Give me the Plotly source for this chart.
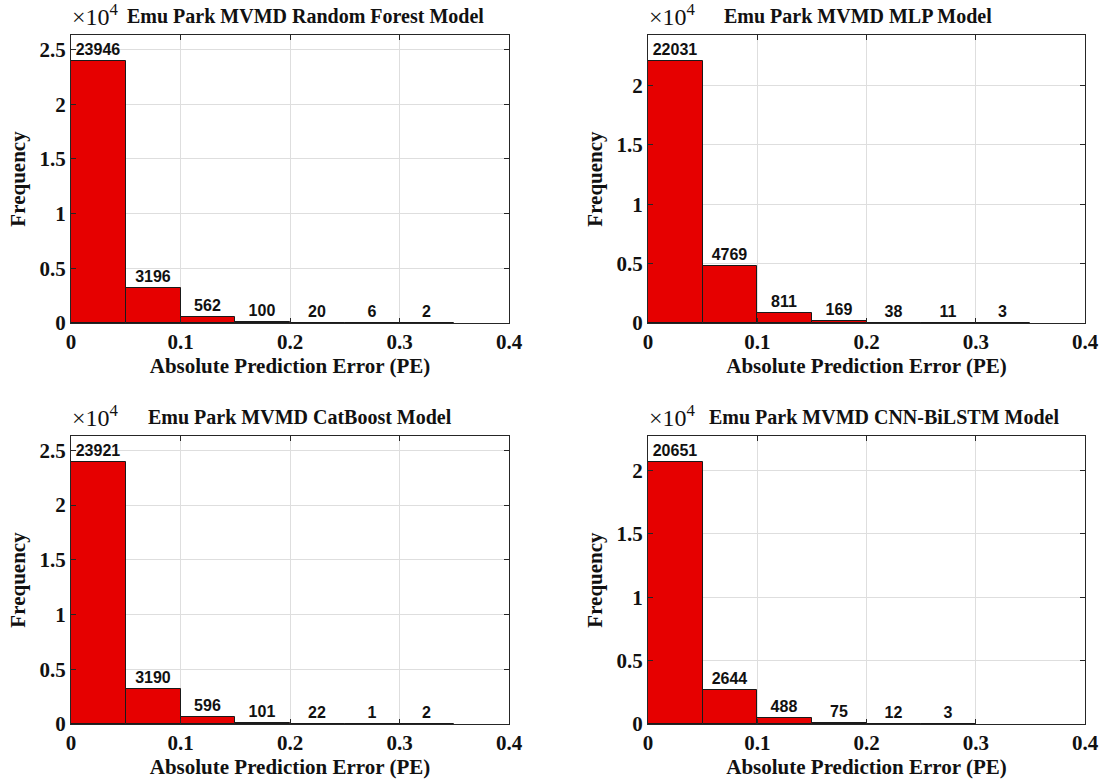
import plotly.graph_objects as go

W, H = 1099, 782

bin_edges = [0, 0.05, 0.1, 0.15, 0.2, 0.25, 0.3, 0.35, 0.4]
titles = [
    "Emu Park MVMD Random Forest Model",
    "Emu Park MVMD MLP Model",
    "Emu Park MVMD CatBoost Model",
    "Emu Park MVMD CNN-BiLSTM Model",
]
counts_rf = [23946, 3196, 562, 100, 20, 6, 2]
counts_mlp = [22031, 4769, 811, 169, 38, 11, 3]
counts_cat = [23921, 3190, 596, 101, 22, 1, 2]
counts_cnn = [20651, 2644, 488, 75, 12, 3]
all_counts = [counts_rf, counts_mlp, counts_cat, counts_cnn]

ytick_vals = [0, 5000, 10000, 15000, 20000, 25000]
ytick_text = ["0", "0.5", "1", "1.5", "2", "2.5"]
xtick_vals = [0, 0.1, 0.2, 0.3, 0.4]
xtick_text = ["0", "0.1", "0.2", "0.3", "0.4"]

# panel boxes in pixels: (left, right, top, bottom)
boxes = [
    (71, 509, 35, 323),
    (648, 1085, 35, 323),
    (71, 509, 436, 724),
    (648, 1085, 436, 724),
]
title_cx = [305, 858, 300, 884]

def px(x):
    return x / W

def py(y):
    return 1 - y / H

SERIF = "Liberation Serif"
SANS = "Liberation Sans"
RED = "#E60000"

fig = go.Figure()
for i, counts in enumerate(all_counts):
    n = len(counts)
    centers = [(bin_edges[k] + bin_edges[k + 1]) / 2 for k in range(n)]
    sfx = "" if i == 0 else str(i + 1)
    fig.add_trace(go.Bar(
        x=centers, y=counts, width=0.05,
        marker=dict(color=RED, line=dict(color="#1a1a1a", width=1)),
        text=[str(c) for c in counts], textposition="outside",
        textfont=dict(family=SANS, size=16, color="#111111", weight="bold"),
        cliponaxis=False,
        xaxis="x" + sfx, yaxis="y" + sfx, showlegend=False,
    ))
    l, r, t, b = boxes[i]
    ymax = max(counts) * 1.1
    axcommon = dict(showline=True, linecolor="#262626", linewidth=1, mirror="ticks",
                    ticks="inside", ticklen=5, tickcolor="#262626", automargin=False,
                    showgrid=True, gridcolor="#dedede", gridwidth=1, zeroline=False,
                    tickfont=dict(family=SERIF, size=21, color="#111111", weight="bold"))
    fig.layout["xaxis" + sfx] = dict(
        domain=[px(l), px(r)], anchor="y" + sfx, range=[0, 0.4],
        tickvals=xtick_vals, ticktext=xtick_text,
        title=dict(text="Absolute Prediction Error (PE)", standoff=5,
                   font=dict(family=SERIF, size=21, color="#111111", weight="bold")),
        **axcommon)
    fig.layout["yaxis" + sfx] = dict(
        domain=[py(b), py(t)], anchor="x" + sfx, range=[0, ymax],
        tickvals=ytick_vals, ticktext=ytick_text,
        title=dict(text="Frequency", standoff=8,
                   font=dict(family=SERIF, size=21, color="#111111", weight="bold")),
        **axcommon)
    fig.add_annotation(x=px(title_cx[i]), y=py(t - 6), xref="paper", yref="paper",
                       text=titles[i], showarrow=False, xanchor="center", yanchor="bottom",
                       font=dict(family=SERIF, size=20, color="#111111", weight="bold"))
    fig.add_annotation(x=px(l - 1), y=py(t - 3), xref="paper", yref="paper",
                       text="×10<sup>4</sup>", showarrow=False, xanchor="left", yanchor="bottom",
                       font=dict(family=SERIF, size=24, color="#111111", weight="normal"))

fig.update_layout(
    width=W, height=H, margin=dict(l=0, r=0, t=0, b=0),
    paper_bgcolor="white", plot_bgcolor="white", bargap=0,
)
fig.write_html("out.html")
